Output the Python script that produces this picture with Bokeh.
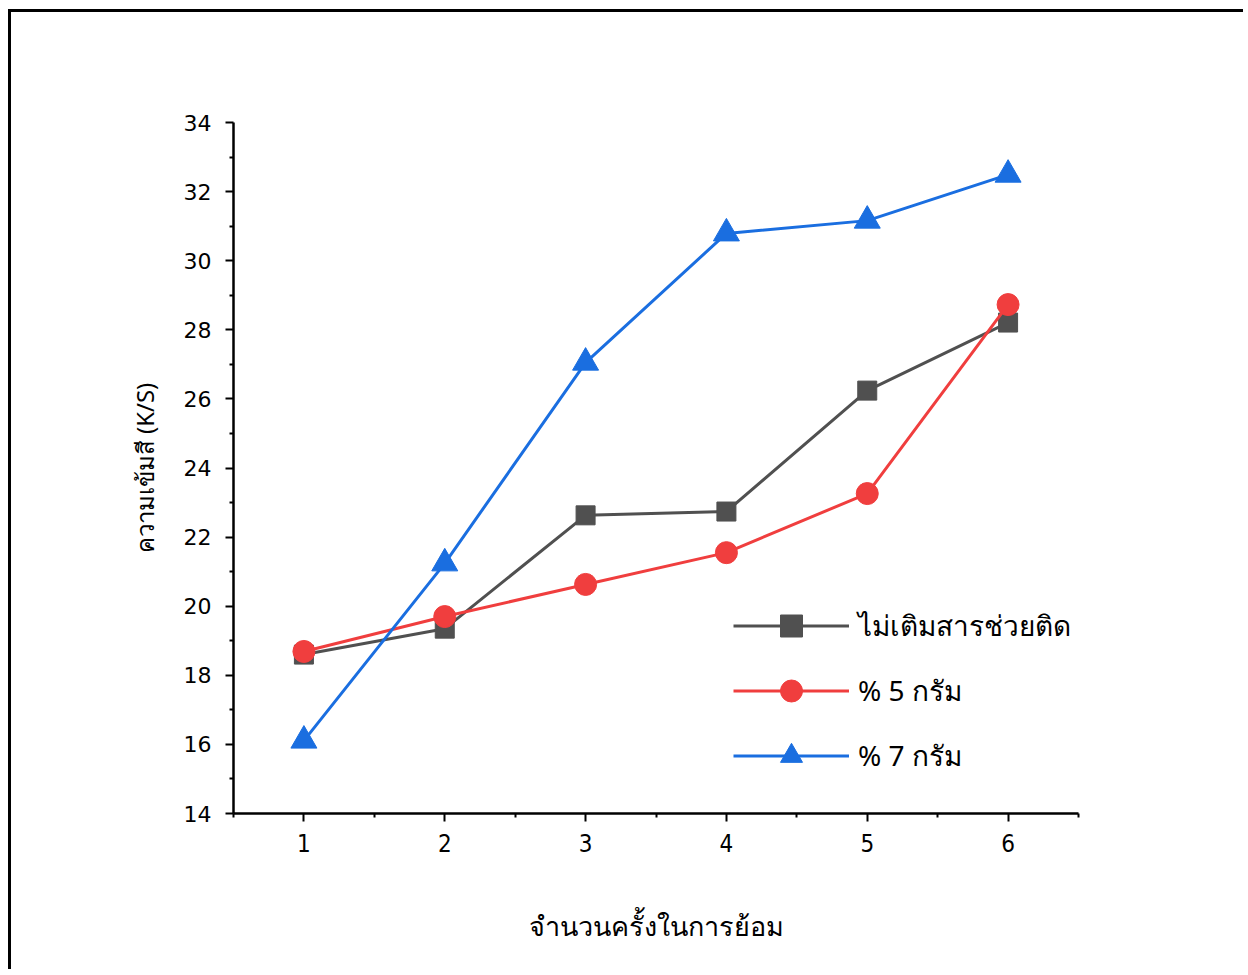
from bokeh.plotting import figure
from bokeh.models import FixedTicker, Legend, LegendItem, Range1d
from bokeh.embed import file_html
from bokeh.resources import INLINE

# ---- data ----
dyeing_rounds = [1, 2, 3, 4, 5, 6]
no_mordant = [18.60, 19.35, 22.63, 22.74, 26.24, 28.21]
mordant_5 = [18.69, 19.70, 20.63, 21.55, 23.26, 28.73]
mordant_7 = [16.11, 21.24, 27.05, 30.79, 31.16, 32.49]
series_names = ["ไม่เติมสารช่วยติด", "% 5 กรัม", "% 7 กรัม"]
x_ticks = [1, 2, 3, 4, 5, 6]
x_minor = [0.5, 1.5, 2.5, 3.5, 4.5, 5.5, 6.5]
y_ticks = [14, 16, 18, 20, 22, 24, 26, 28, 30, 32, 34]
y_minor = [15, 17, 19, 21, 23, 25, 27, 29, 31, 33]
x_title = "จำนวนครั้งในการย้อม"
y_title = "ความเข้มสี (K/S)"

colors = ["#505050", "#F03E3E", "#1A6EE0"]
FONT = "Noto Sans"

p = figure(width=1235, height=960, output_backend="svg", toolbar_location=None,
           x_range=Range1d(0.5, 6.5), y_range=Range1d(14, 34),
           min_border_left=222, min_border_right=168,
           min_border_top=110, min_border_bottom=159)
p.styles = {"margin-left": "8px", "margin-top": "9px",
            "border-left": "3px solid black", "border-top": "3px solid black"}
p.background_fill_color = "white"
p.border_fill_color = "white"
p.outline_line_color = None
p.xgrid.visible = False
p.ygrid.visible = False

p.xaxis.ticker = FixedTicker(ticks=x_ticks, minor_ticks=x_minor)
p.yaxis.ticker = FixedTicker(ticks=y_ticks, minor_ticks=y_minor)
for ax in (p.xaxis[0], p.yaxis[0]):
    ax.axis_line_width = 2.5
    ax.axis_line_color = "black"
    ax.major_tick_line_width = 2
    ax.minor_tick_line_width = 2
    ax.major_tick_line_color = "black"
    ax.minor_tick_line_color = "black"
    ax.major_tick_in = 0
    ax.major_tick_out = 8
    ax.minor_tick_in = 0
    ax.minor_tick_out = 4
    ax.major_label_text_font = "DejaVu Sans"
    ax.major_label_text_font_size = "22px"
    ax.major_label_text_color = "black"
    ax.axis_label_text_font = FONT
    ax.axis_label_text_font_style = "normal"
    ax.axis_label_text_color = "black"

p.xaxis.major_label_text_font = "DejaVu Sans Condensed"
p.xaxis.major_label_text_font_size = "24px"
p.xaxis.major_label_standoff = 12
p.yaxis.major_label_standoff = 14
p.xaxis.axis_label = x_title
p.yaxis.axis_label = y_title
p.xaxis.axis_label_text_font_size = "27px"
p.yaxis.axis_label_text_font_size = "24px"
p.xaxis.axis_label_standoff = 52
p.yaxis.axis_label_standoff = 20

series = [no_mordant, mordant_5, mordant_7]
markers = ["square", "circle", "triangle"]
sizes = [19, 22, 26]
items = []
for name, ys, c, m, s in zip(series_names, series, colors, markers, sizes):
    ln = p.line(dyeing_rounds, ys, line_color=c, line_width=3)
    sc = p.scatter(dyeing_rounds, ys, marker=m, size=s, fill_color=c, line_color=c)
    items.append(LegendItem(label=name, renderers=[ln, sc]))

legend = Legend(items=items, location=(500, 30), orientation="vertical",
                glyph_width=116, glyph_height=55, label_height=55,
                label_standoff=9, spacing=10, padding=0, margin=0,
                border_line_color=None, background_fill_alpha=0,
                label_text_font=FONT, label_text_font_size="28px",
                label_text_color="black")
p.add_layout(legend, "center")

open("out.html", "w").write(file_html(p, INLINE))
